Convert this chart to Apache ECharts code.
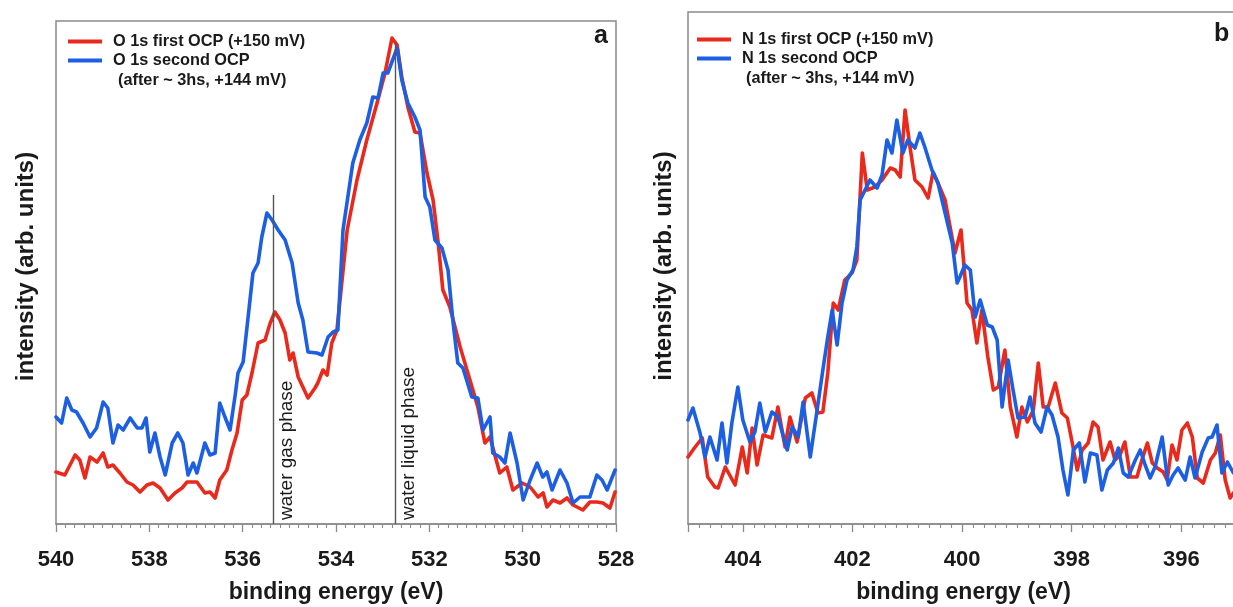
<!DOCTYPE html>
<html>
<head>
<meta charset="utf-8">
<script src="https://cdn.jsdelivr.net/npm/echarts@6/dist/echarts.min.js"></script>
<style>
  html, body { margin: 0; padding: 0; background: #ffffff; width: 1233px; height: 607px; overflow: hidden; }
  /* the N 1s panel runs on past the right edge of the page, so the canvas is wider than the view */
  #chart { width: 1300px; height: 607px; }
</style>
</head>
<body>
<div id="chart"></div>
<script>
// ---- O 1s spectra (panel a) ----
const o1sFirstEnergy = [540.00, 539.81, 539.59, 539.49, 539.38, 539.27, 539.12, 538.99, 538.89, 538.78,
  538.63, 538.48, 538.35, 538.20, 538.05, 537.92, 537.77, 537.60, 537.45, 537.30,
  537.19, 536.98, 536.81, 536.70, 536.59, 536.49, 536.34, 536.23, 536.12, 536.01,
  535.91, 535.80, 535.67, 535.52, 535.41, 535.31, 535.20, 535.09, 534.99, 534.92,
  534.81, 534.60, 534.45, 534.39, 534.28, 534.19, 534.09, 533.98, 533.76, 533.55,
  533.34, 533.12, 532.95, 532.80, 532.69, 532.59, 532.46, 532.31, 532.20, 532.05,
  531.92, 531.81, 531.71, 531.56, 531.34, 531.13, 530.96, 530.81, 530.70, 530.55,
  530.49, 530.34, 530.21, 530.01, 529.84, 529.67, 529.56, 529.48, 529.35, 529.20,
  529.05, 528.92, 528.71, 528.56, 528.41, 528.28, 528.13, 528.02];
const o1sFirstIntensity = [52, 49, 69, 64, 46, 67, 62, 71, 57, 59,
  51, 42, 39, 32, 39, 41, 36, 24, 31, 36,
  42, 42, 31, 32, 26, 44, 54, 74, 91, 124,
  129, 151, 181, 184, 201, 212, 204, 191, 164, 171,
  147, 126, 136, 141, 154, 149, 181, 194, 294, 344,
  384, 421, 451, 486, 479, 447, 417, 392, 391, 351,
  324, 281, 234, 217, 177, 144, 117, 81, 87, 61,
  51, 57, 34, 41, 37, 27, 31, 17, 24, 21,
  26, 19, 14, 22, 22, 21, 16, 32];

const o1sSecondEnergy = [540.00, 539.88, 539.77, 539.66, 539.56, 539.42, 539.27, 539.13, 538.99, 538.89,
  538.78, 538.67, 538.56, 538.41, 538.26, 538.16, 538.07, 537.99, 537.88, 537.77,
  537.66, 537.51, 537.39, 537.28, 537.17, 537.06, 536.98, 536.81, 536.70, 536.59,
  536.49, 536.38, 536.27, 536.16, 536.10, 535.99, 535.89, 535.78, 535.67, 535.59,
  535.48, 535.37, 535.24, 535.09, 534.94, 534.81, 534.71, 534.60, 534.41, 534.30,
  534.17, 534.06, 533.96, 533.85, 533.64, 533.49, 533.34, 533.21, 533.10, 532.99,
  532.89, 532.69, 532.59, 532.46, 532.31, 532.20, 532.09, 531.99, 531.88, 531.73,
  531.60, 531.49, 531.39, 531.28, 531.09, 530.96, 530.85, 530.70, 530.64, 530.49,
  530.38, 530.27, 530.12, 529.99, 529.84, 529.69, 529.57, 529.48, 529.37, 529.20,
  529.05, 528.92, 528.77, 528.56, 528.41, 528.30, 528.19, 528.02];
const o1sSecondIntensity = [107, 101, 126, 114, 112, 101, 87, 96, 122, 116,
  81, 99, 94, 106, 96, 96, 106, 72, 91, 67,
  49, 81, 91, 81, 49, 61, 51, 81, 69, 71,
  121, 107, 94, 129, 151, 162, 204, 251, 261, 287,
  311, 304, 294, 284, 261, 221, 204, 172, 171, 169,
  187, 192, 194, 294, 361, 384, 401, 427, 426, 451,
  451, 476, 444, 421, 407, 394, 327, 317, 284, 276,
  254, 201, 161, 156, 127, 126, 94, 107, 71, 67,
  61, 91, 61, 24, 44, 61, 47, 52, 34, 54,
  41, 21, 27, 27, 49, 44, 34, 54];

// ---- N 1s spectra (panel b) ----
const n1sFirstEnergy = [405.00, 404.87, 404.74, 404.64, 404.51, 404.45, 404.32, 404.14, 404.01, 403.92,
  403.83, 403.74, 403.63, 403.47, 403.36, 403.23, 403.14, 403.01, 402.86, 402.74,
  402.63, 402.54, 402.45, 402.35, 402.26, 402.14, 402.01, 401.92, 401.82, 401.73,
  401.59, 401.46, 401.31, 401.22, 401.13, 401.04, 400.95, 400.86, 400.73, 400.62,
  400.53, 400.44, 400.31, 400.13, 400.02, 399.91, 399.82, 399.73, 399.64, 399.53,
  399.43, 399.34, 399.22, 399.12, 399.00, 398.91, 398.81, 398.70, 398.61, 398.52,
  398.43, 398.30, 398.18, 398.08, 397.99, 397.90, 397.81, 397.70, 397.61, 397.52,
  397.43, 397.30, 397.21, 397.12, 397.03, 396.93, 396.81, 396.72, 396.62, 396.53,
  396.44, 396.33, 396.26, 396.17, 396.08, 395.99, 395.89, 395.80, 395.71, 395.60,
  395.47, 395.38, 395.29, 395.20, 395.11, 395.05];
const n1sFirstIntensity = [67, 77, 86, 47, 37, 36, 57, 39, 77, 51,
  96, 59, 89, 86, 117, 77, 107, 82, 126, 131,
  111, 112, 151, 221, 214, 244, 251, 264, 371, 334,
  337, 344, 356, 354, 347, 414, 377, 344, 337, 326,
  352, 341, 324, 271, 294, 221, 214, 181, 214, 167,
  134, 137, 174, 117, 87, 117, 102, 114, 161, 117,
  117, 141, 111, 106, 81, 54, 74, 81, 102, 97,
  64, 82, 64, 69, 82, 47, 47, 64, 81, 61,
  56, 52, 44, 79, 64, 94, 101, 87, 46, 41,
  64, 71, 89, 44, 26, 31];

const n1sSecondEnergy = [405.00, 404.91, 404.78, 404.69, 404.60, 404.47, 404.38, 404.29, 404.20, 404.09,
  404.00, 403.87, 403.78, 403.69, 403.59, 403.47, 403.36, 403.19, 403.10, 402.99,
  402.90, 402.77, 402.65, 402.54, 402.45, 402.37, 402.28, 402.19, 402.10, 401.99,
  401.92, 401.86, 401.77, 401.68, 401.55, 401.46, 401.37, 401.28, 401.19, 401.08,
  400.99, 400.86, 400.77, 400.68, 400.55, 400.44, 400.31, 400.18, 400.09, 400.04,
  399.95, 399.85, 399.76, 399.67, 399.54, 399.45, 399.36, 399.27, 399.16, 399.07,
  398.98, 398.85, 398.76, 398.67, 398.56, 398.45, 398.36, 398.25, 398.16, 398.07,
  397.97, 397.86, 397.76, 397.66, 397.54, 397.45, 397.35, 397.24, 397.15, 397.06,
  396.97, 396.84, 396.75, 396.66, 396.57, 396.48, 396.35, 396.24, 396.15, 396.06,
  395.93, 395.84, 395.75, 395.62, 395.51, 395.44, 395.35, 395.26, 395.16, 395.05];
const n1sSecondIntensity = [104, 116, 91, 67, 87, 64, 101, 61, 101, 137,
  104, 82, 92, 121, 92, 112, 107, 74, 97, 87,
  122, 67, 112, 154, 187, 214, 179, 221, 244, 254,
  277, 324, 334, 344, 336, 349, 384, 371, 404, 371,
  384, 376, 391, 377, 354, 341, 311, 281, 241, 247,
  259, 254, 207, 224, 199, 197, 184, 117, 164, 134,
  106, 107, 127, 101, 92, 117, 109, 87, 54, 29,
  74, 81, 42, 71, 69, 34, 54, 61, 76, 51,
  47, 64, 74, 59, 46, 57, 87, 39, 49, 56,
  44, 67, 46, 72, 86, 87, 99, 51, 62, 51];

// Reference energies marked in the O 1s panel, with the height each marker line reaches
const phaseMarkers = [
  { name: 'water gas phase', energy: 535.34, top: 329 },
  { name: 'water liquid phase', energy: 532.73, top: 482 }
];

const seriesNames = {
  o1sFirst: 'O 1s first OCP (+150 mV)',
  o1sSecond: 'O 1s second OCP',
  n1sFirst: 'N 1s first OCP (+150 mV)',
  n1sSecond: 'N 1s second OCP'
};
const secondRunNote = '(after ~ 3hs, +144 mV)';

const FONT = '"Liberation Sans", Arial, Helvetica, sans-serif';
const RED = '#e8291c';
const BLUE = '#1c5fe3';
const FRAME = '#8a8a8a';
const INK = '#1a1a1a';

const pairs = (xs, ys) => xs.map((x, i) => [x, ys[i]]);

function energyAxis(gridIndex, min, max, extra) {
  return Object.assign({
    gridIndex: gridIndex,
    type: 'value',
    min: min,
    max: max,
    interval: 2,
    inverse: true,
    name: 'binding energy (eV)',
    nameLocation: 'middle',
    nameGap: 57,
    nameTextStyle: { fontFamily: FONT, fontSize: 23, fontWeight: 'bold', color: INK },
    axisLine: { show: true, lineStyle: { color: FRAME, width: 1.5 } },
    axisTick: { show: true, inside: false, length: 8, lineStyle: { color: FRAME, width: 1.3 } },
    minorTick: { show: true, splitNumber: 10, length: 4, lineStyle: { color: FRAME, width: 1.1 } },
    axisLabel: { fontFamily: FONT, fontSize: 22, fontWeight: 'bold', color: INK, margin: 25 },
    splitLine: { show: false },
    minorSplitLine: { show: false }
  }, extra || {});
}

function intensityAxis(gridIndex, max, gap, shiftUp) {
  return {
    gridIndex: gridIndex,
    type: 'value',
    min: 0,
    max: max,
    name: 'intensity (arb. units)',
    nameLocation: 'middle',
    nameGap: gap,
    nameTextStyle: { fontFamily: FONT, fontSize: 24, fontWeight: 'bold', color: INK, padding: [0, 0, 0, 2 * shiftUp] },
    axisLine: { show: false },
    axisTick: { show: false },
    axisLabel: { show: false },
    splitLine: { show: false }
  };
}

function spectrum(name, data, color, axisIndex, extra) {
  return Object.assign({
    name: name,
    type: 'line',
    xAxisIndex: axisIndex,
    yAxisIndex: axisIndex,
    data: data,
    showSymbol: false,
    symbol: 'none',
    clip: true,
    lineStyle: { color: color, width: 3.6, join: 'round', cap: 'round' },
    itemStyle: { color: color },
    emphasis: { disabled: true },
    animation: false
  }, extra || {});
}

function legendBlock(names, left, top) {
  return {
    orient: 'vertical',
    left: left,
    top: top,
    padding: 0,
    itemGap: 0,
    itemWidth: 34,
    itemHeight: 4,
    icon: 'rect',
    selectedMode: false,
    data: names,
    textStyle: { fontFamily: FONT, fontSize: 16.3, fontWeight: 'bold', color: INK, lineHeight: 19, padding: [0, 0, 0, 6] }
  };
}

const chart = echarts.init(document.getElementById('chart'), null, { renderer: 'canvas' });

chart.setOption({
  animation: false,
  backgroundColor: '#ffffff',
  textStyle: { fontFamily: FONT },
  title: [
    { text: 'a', left: 594, top: 24, padding: 0, textStyle: { fontFamily: FONT, fontSize: 25, fontWeight: 'bold', color: INK } },
    { text: 'b', left: 1214, top: 22, padding: 0, textStyle: { fontFamily: FONT, fontSize: 25, fontWeight: 'bold', color: INK } }
  ],
  legend: [
    legendBlock([seriesNames.o1sFirst, seriesNames.o1sSecond], 68, 32),
    legendBlock([seriesNames.n1sFirst, seriesNames.n1sSecond], 697, 30)
  ],
  graphic: [
    { type: 'text', left: 118, top: 73, silent: true,
      style: { text: secondRunNote, font: 'bold 16.3px ' + FONT, fill: INK } },
    { type: 'text', left: 746, top: 71, silent: true,
      style: { text: secondRunNote, font: 'bold 16.3px ' + FONT, fill: INK } }
  ],
  grid: [
    { left: 56, top: 21, width: 560, height: 503, outerBoundsMode: 'none', containLabel: false,
      show: true, borderColor: FRAME, borderWidth: 1.5, backgroundColor: 'transparent' },
    { left: 688, top: 12, width: 603, height: 512, outerBoundsMode: 'none', containLabel: false,
      show: true, borderColor: FRAME, borderWidth: 1.5, backgroundColor: 'transparent' }
  ],
  xAxis: [
    energyAxis(0, 528, 540),
    energyAxis(1, 394, 405, {
      axisLabel: { fontFamily: FONT, fontSize: 22, fontWeight: 'bold', color: INK, margin: 25, showMaxLabel: false },
      nameTextStyle: { fontFamily: FONT, fontSize: 23, fontWeight: 'bold', color: INK, padding: [0, 52, 0, 0] }
    })
  ],
  yAxis: [
    intensityAxis(0, 503, 18, 6),
    intensityAxis(1, 512, 12, 2)
  ],
  series: [
    spectrum(seriesNames.o1sFirst, pairs(o1sFirstEnergy, o1sFirstIntensity), RED, 0, {
      markLine: {
        silent: true,
        symbol: ['none', 'none'],
        animation: false,
        lineStyle: { color: '#555555', width: 1.4, type: 'solid' },
        label: {
          show: true,
          position: 'insideStartBottom',
          formatter: '{b}',
          fontFamily: FONT,
          fontSize: 19,
          color: INK,
          distance: 4
        },
        emphasis: { disabled: true },
        data: phaseMarkers.map(m => [
          { name: m.name, coord: [m.energy, 0] },
          { coord: [m.energy, m.top] }
        ])
      }
    }),
    spectrum(seriesNames.o1sSecond, pairs(o1sSecondEnergy, o1sSecondIntensity), BLUE, 0),
    spectrum(seriesNames.n1sFirst, pairs(n1sFirstEnergy, n1sFirstIntensity), RED, 1),
    spectrum(seriesNames.n1sSecond, pairs(n1sSecondEnergy, n1sSecondIntensity), BLUE, 1)
  ]
});
</script>
</body>
</html>
